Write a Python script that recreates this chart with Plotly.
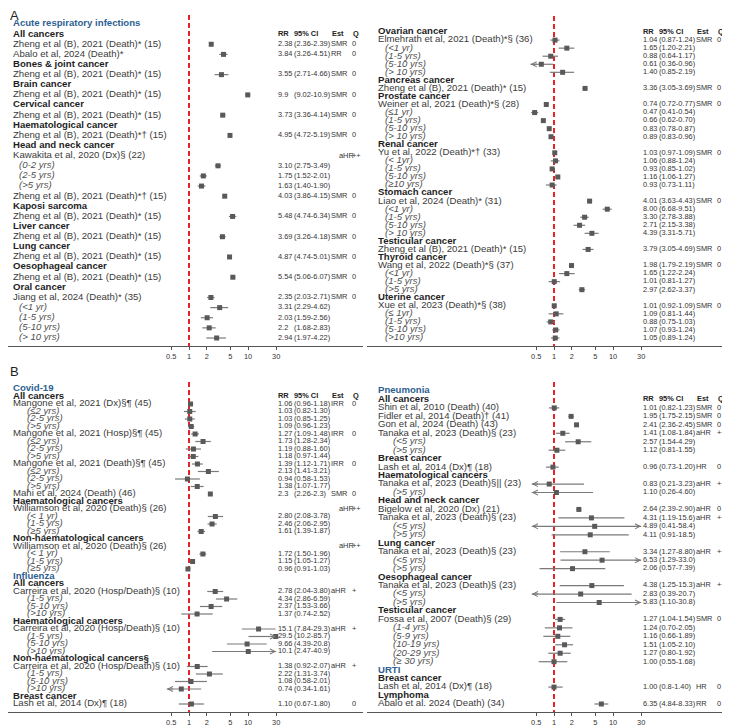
import math
import plotly.graph_objects as go

# ---------------- Panel A, left ----------------
A1_labels = ["Acute respiratory infections", "All cancers",
             "Zheng et al (B), 2021 (Death)* (15)", "Abalo et al, 2024 (Death)*",
             "Bones & joint cancer", "Zheng et al (B), 2021 (Death)* (15)",
             "Brain cancer", "Zheng et al (B), 2021 (Death)* (15)",
             "Cervical cancer", "Zheng et al (B), 2021 (Death)* (15)",
             "Haematological cancer", "Zheng et al (B), 2021 (Death)*† (15)",
             "Head and neck cancer", "Kawakita et al, 2020 (Dx)§ (22)",
             "(0-2 yrs)", "(2-5 yrs)", "(>5 yrs)", "Zheng et al (B), 2021 (Death)*† (15)",
             "Kaposi sarcoma", "Zheng et al (B), 2021 (Death)* (15)",
             "Liver cancer", "Zheng et al (B), 2021 (Death)* (15)",
             "Lung cancer", "Zheng et al (B), 2021 (Death)* (15)",
             "Oesophageal cancer", "Zheng et al (B), 2021 (Death)* (15)",
             "Oral cancer", "Jiang et al, 2024 (Death)* (35)",
             "(<1 yr)", "(1-5 yrs)", "(5-10 yrs)", "(> 10 yrs)"]
A1_kinds = "S G T T G T G T G T G T G T U U U T G T G T G T G T G T U U U U".split()
A1_rr = [None, None, "2.38", "3.84", None, "3.55", None, "9.9", None, "3.73", None, "4.95",
         None, None, "3.10", "1.75", "1.63", "4.03", None, "5.48", None, "3.69", None, "4.87",
         None, "5.54", None, "2.35", "3.31", "2.03", "2.2", "2.94"]
A1_ci = [None, None, "2.36-2.39", "3.26-4.51", None, "2.71-4.66", None, "9.02-10.9", None,
         "3.36-4.14", None, "4.72-5.19", None, None, "2.75-3.49", "1.52-2.01", "1.40-1.90",
         "3.86-4.15", None, "4.74-6.34", None, "3.26-4.18", None, "4.74-5.01", None,
         "5.06-6.07", None, "2.03-2.71", "2.29-4.62", "1.59-2.56", "1.68-2.83", "1.97-4.22"]
A1_est = ["", "", "SMR", "RR", "", "SMR", "", "SMR", "", "SMR", "", "SMR", "", "aHR", "", "",
          "", "SMR", "", "SMR", "", "SMR", "", "SMR", "", "SMR", "", "SMR", "", "", "", ""]
A1_q = ["", "", "0", "0", "", "0", "", "0", "", "0", "", "0", "", "++", "", "", "", "0", "",
        "0", "", "0", "", "0", "", "0", "", "0", "", "", "", ""]

# ---------------- Panel A, right ----------------
A2_labels = ["", "Ovarian cancer", "Elmehrath et al, 2021 (Death)*§ (36)",
             "(<1 yr)", "(1-5 yrs)", "(5-10 yrs)", "(> 10 yrs)",
             "Pancreas cancer", "Zheng et al (B), 2021 (Death)* (15)",
             "Prostate cancer", "Weiner et al, 2021 (Death)*§ (28)",
             "(≤1 yr)", "(1-5 yrs)", "(5-10 yrs)", "(> 10 yrs)",
             "Renal cancer", "Yu et al, 2022 (Death)*† (33)",
             "(< 1yr)", "(1-5 yrs)", "(5-10 yrs)", "(≥10 yrs)",
             "Stomach cancer", "Liao et al, 2024 (Death)* (31)",
             "(<1 yr)", "(1-5 yrs)", "(5-10 yrs)", "(> 10 yrs)",
             "Testicular cancer", "Zheng et al (B), 2021 (Death)* (15)",
             "Thyroid cancer", "Wang et al, 2022 (Death)*§ (37)",
             "(<1 yr)", "(1-5 yrs)", "(>5 yrs)",
             "Uterine cancer", "Xue et al, 2023 (Death)*§ (38)",
             "(≤ 1yr)", "(1-5 yrs)", "(5-10 yrs)", "(>10 yrs)"]
A2_kinds = "B G T U U U U G T G T U U U U G T U U U U G T U U U U G T G T U U U G T U U U U".split()
A2_rr = [None, None, "1.04", "1.65", "0.88", "0.61", "1.40", None, "3.36", None, "0.74",
         "0.47", "0.66", "0.83", "0.89", None, "1.03", "1.06", "0.93", "1.16", "0.93", None,
         "4.01", "8.00", "3.30", "2.71", "4.39", None, "3.79", None, "1.98", "1.65", "1.01",
         "2.97", None, "1.01", "1.09", "0.88", "1.07", "1.05"]
A2_ci = [None, None, "0.87-1.24", "1.20-2.21", "0.64-1.17", "0.36-0.96", "0.85-2.19", None,
         "3.05-3.69", None, "0.72-0.77", "0.41-0.54", "0.62-0.70", "0.78-0.87", "0.83-0.96",
         None, "0.97-1.09", "0.88-1.24", "0.85-1.02", "1.06-1.27", "0.73-1.11", None,
         "3.63-4.43", "6.68-9.51", "2.78-3.88", "2.15-3.38", "3.31-5.71", None, "3.05-4.69",
         None, "1.79-2.19", "1.22-2.24", "0.81-1.27", "2.62-3.37", None, "0.92-1.09",
         "0.81-1.44", "0.75-1.03", "0.93-1.24", "0.89-1.24"]
A2_est = ["", "", "SMR", "", "", "", "", "", "SMR", "", "SMR", "", "", "", "", "", "SMR", "",
          "", "", "", "", "SMR", "", "", "", "", "", "SMR", "", "SMR", "", "", "", "", "SMR",
          "", "", "", ""]
A2_q = ["", "", "0", "", "", "", "", "", "0", "", "0", "", "", "", "", "", "0", "", "", "",
        "", "", "0", "", "", "", "", "", "0", "", "0", "", "", "", "", "0", "", "", "", ""]

# ---------------- Panel B, left ----------------
B1_labels = ["Covid-19", "All cancers", "Mangone et al, 2021 (Dx)§¶ (45)",
             "(≤2 yrs)", "(2-5 yrs)", "(>5 yrs)", "Mangone et al, 2021 (Hosp)§¶ (45)",
             "(≤2 yrs)", "(2-5 yrs)", "(>5 yrs)", "Mangone et al, 2021 (Death)§¶ (45)",
             "(≤2 yrs)", "(2-5 yrs)", "(>5 yrs)", "Mahi et al, 2024 (Death) (46)",
             "Haematological cancers", "Williamson et al, 2020 (Death)§ (26)",
             "(< 1 yr)", "(1-5 yrs)", "(≥5 yrs)",
             "Non-haematological cancers", "Williamson et al, 2020 (Death)§ (26)",
             "(< 1 yr)", "(1-5 yrs)", "(≥5 yrs)",
             "Influenza", "All cancers", "Carreira et al, 2020 (Hosp/Death)§ (10)",
             "(1-5 yrs)", "(5-10 yrs)", "(>10 yrs)",
             "Haematological cancers", "Carreira et al, 2020 (Hosp/Death)§ (10)",
             "(1-5 yrs)", "(5-10 yrs)", "(>10 yrs)",
             "Non-haematological cancers§", "Carreira et al, 2020 (Hosp/Death)§ (10)",
             "(1-5 yrs)", "(5-10 yrs)", "(>10 yrs)",
             "Breast cancer", "Lash et al, 2014 (Dx)¶ (18)"]
B1_kinds = ("S G T U U U T U U U T U U U T G T U U U G T U U U "
            "S G T U U U G T U U U G T U U U G T").split()
B1_rr = [None, None, "1.06", "1.03", "1.03", "1.09", "1.27", "1.73", "1.19", "1.18", "1.39",
         "2.13", "0.94", "1.38", "2.3", None, None, "2.80", "2.46", "1.61", None, None, "1.72",
         "1.15", "0.96", None, None, "2.78", "4.34", "2.37", "1.37", None, "15.1", "29.5",
         "9.66", "10.1", None, "1.38", "2.22", "1.08", "0.74", None, "1.10"]
B1_ci = [None, None, "0.96-1.18", "0.82-1.30", "0.85-1.25", "0.96-1.23", "1.09-1.48",
         "1.28-2.34", "0.88-1.60", "0.97-1.44", "1.12-1.71", "1.41-3.21", "0.58-1.53",
         "1.07-1.77", "2.26-2.3", None, None, "2.08-3.78", "2.06-2.95", "1.39-1.87", None,
         None, "1.50-1.96", "1.05-1.27", "0.91-1.03", None, None, "2.04-3.80", "2.86-6.59",
         "1.53-3.66", "0.74-2.52", None, "7.84-29.3", "10.2-85.7", "4.39-20.8", "2.47-40.9",
         None, "0.92-2.07", "1.31-3.74", "0.58-2.01", "0.34-1.61", None, "0.67-1.80"]
B1_est = ["", "", "IRR", "", "", "", "IRR", "", "", "", "IRR", "", "", "", "SMR", "", "aHR",
          "", "", "", "", "aHR", "", "", "", "", "", "aHR", "", "", "", "", "aHR", "", "", "",
          "", "aHR", "", "", "", "", ""]
B1_q = ["", "", "0", "", "", "", "0", "", "", "", "0", "", "", "", "0", "", "++", "", "", "",
        "", "++", "", "", "", "", "", "+", "", "", "", "", "+", "", "", "", "", "+", "", "",
        "", "", "0"]

# ---------------- Panel B, right ----------------
B2_labels = ["Pneumonia", "All cancers", "Shin et al, 2010 (Death) (40)",
             "Fidler et al, 2014 (Death)† (41)", "Gon et al, 2024 (Death) (43)",
             "Tanaka et al, 2023 (Death)§ (23)", "(<5 yrs)", "(>5 yrs)",
             "Breast cancer", "Lash et al, 2014 (Dx)¶ (18)",
             "Haematological cancers", "Tanaka et al, 2023 (Death)§|| (23)", "(>5 yrs)",
             "Head and neck cancer", "Bigelow et al, 2020 (Dx) (21)",
             "Tanaka et al, 2023 (Death)§ (23)", "(<5 yrs)", "(>5 yrs)",
             "Lung cancer", "Tanaka et al, 2023 (Death)§ (23)", "(<5 yrs)", "(>5 yrs)",
             "Oesophageal cancer", "Tanaka et al, 2023 (Death)§ (23)", "(<5 yrs)", "(>5 yrs)",
             "Testicular cancer", "Fossa et al, 2007 (Death)§ (29)",
             "(1-4 yrs)", "(5-9 yrs)", "(10-19 yrs)", "(20-29 yrs)", "(≥ 30 yrs)",
             "URTI", "Breast cancer", "Lash et al, 2014 (Dx)¶ (18)",
             "Lymphoma", "Abalo et al. 2024 (Death) (34)"]
B2_kinds = ("S G T T T T U U G T G T U G T T U U G T U U G T U U "
            "G T U U U U U S G T G T").split()
B2_rr = [None, None, "1.01", "1.95", "2.41", "1.41", "2.57", "1.12", None, "0.96", None,
         "0.83", "1.10", None, "2.64", "4.31", "4.89", "4.11", None, "3.34", "6.53", "2.06",
         None, "4.38", "2.83", "5.83", None, "1.27", "1.24", "1.16", "1.51", "1.27", "1.00",
         None, None, "1.00", None, "6.35"]
B2_ci = [None, None, "0.82-1.23", "1.75-2.15", "2.36-2.45", "1.08-1.84", "1.54-4.29",
         "0.81-1.55", None, "0.73-1.20", None, "0.21-3.23", "0.26-4.60", None, "2.39-2.90",
         "1.19-15.6", "0.41-58.4", "0.91-18.5", None, "1.27-8.80", "1.29-33.0", "0.57-7.39",
         None, "1.25-15.3", "0.39-20.7", "1.10-30.8", None, "1.04-1.54", "0.70-2.05",
         "0.66-1.89", "1.05-2.10", "0.80-1.92", "0.55-1.68", None, None, "0.8-1.40", None,
         "4.84-8.33"]
B2_est = ["", "", "SMR", "SMR", "SMR", "aHR", "", "", "", "HR", "", "aHR", "", "", "aHR",
          "aHR", "", "", "", "aHR", "", "", "", "aHR", "", "", "", "SMR", "", "", "", "", "",
          "", "", "HR", "", "RR"]
B2_q = ["", "", "0", "0", "0", "++", "", "", "", "0", "", "++", "", "", "0", "++", "", "",
        "", "++", "", "", "", "++", "", "", "", "0", "", "", "", "", "", "", "", "0", "", "0"]

TICK_VALS = [0.5, 1, 2, 5, 10, 30]
TICK_TEXT = ["0.5", "1", "2", "5", "10", "30"]
COL_HEAD = ["RR", "95% CI", "Est", "Q"]

# ---------------- layout constants ----------------
PAGE_W, PAGE_H = 730, 727
BODY = 8                      # default page margin around the plot div
W, H = PAGE_W - BODY, PAGE_H - BODY
PPD = 59.0                    # pixels per decade on the ratio axis
X1 = 189                      # pixel (inside a panel) of ratio = 1
TXT_SHIFT = 1
FONT = "Liberation Sans, Arial, sans-serif"
BLUE = "#2e5f92"

# all pixel positions below are page pixels
panels = [
    dict(d=(A1_labels, A1_kinds, A1_rr, A1_ci, A1_est, A1_q), off=0, xpx=(0, 363),
         ypx=(10, 346), ltop=15, first=24, last=338, sub=20, clip=(0.4, 30)),
    dict(d=(A2_labels, A2_kinds, A2_rr, A2_ci, A2_est, A2_q), off=365, xpx=(367, 728),
         ypx=(10, 346), ltop=16, first=24, last=338, sub=21, clip=(0.4, 30)),
    dict(d=(B1_labels, B1_kinds, B1_rr, B1_ci, B1_est, B1_q), off=0, xpx=(0, 363),
         ypx=(380, 712), ltop=382, first=389, last=704, sub=28, clip=(0.42, 30)),
    dict(d=(B2_labels, B2_kinds, B2_rr, B2_ci, B2_est, B2_q), off=365, xpx=(367, 728),
         ypx=(380, 712), ltop=382, first=391, last=704, sub=29, clip=(0.42, 30)),
]


def rel2x(rel):
    return 10 ** ((rel - X1) / PPD)


def txt2x(rel):
    return rel2x(rel - TXT_SHIFT)


KSTYLE = {
    "S": dict(color=BLUE, weight="bold", style="normal"),
    "G": dict(color="#1e1e1e", weight="bold", style="normal"),
    "T": dict(color="#3a3a3a", weight="normal", style="normal"),
    "U": dict(color="#505050", weight="normal", style="italic"),
}
LABEL_SIZE = 9.6
NUM_SIZE = 7.4

fig = go.Figure()
annotations = []

for k, p in enumerate(panels):
    labels, kinds, rr, ci, est, q = p["d"]
    sfx = "" if k == 0 else str(k + 1)
    xa, ya = "x" + sfx, "y" + sfx
    n = len(labels)
    step = (p["last"] - p["first"]) / (n - 1)
    rows = [i + 1 for i in range(n)]

    def px2row(py, first=p["first"], step=step):
        return 1 + (py - first) / step

    x0 = max(p["xpx"][0], BODY)
    x1 = min(p["xpx"][1], PAGE_W)
    xdom = [(x0 - BODY) / W, (x1 - BODY) / W]
    xr = [(x0 - p["off"] - X1) / PPD, (x1 - p["off"] - X1) / PPD]
    ydom = [1 - (p["ypx"][1] - BODY) / H, 1 - (p["ypx"][0] - BODY) / H]
    yr = [px2row(p["ypx"][1]), px2row(p["ypx"][0])]

    fig.update_layout({
        "xaxis" + sfx: dict(type="log", domain=xdom, range=xr, anchor=ya,
                            tickvals=TICK_VALS, ticktext=TICK_TEXT, ticks="outside",
                            ticklen=3, tickwidth=1, tickcolor="#555", showline=True,
                            linecolor="#555", linewidth=1, showgrid=False, zeroline=False,
                            tickfont=dict(size=NUM_SIZE, color="#333", family=FONT)),
        "yaxis" + sfx: dict(domain=ydom, range=yr, anchor=xa, visible=False,
                            showgrid=False, zeroline=False),
    })

    # reference line at 1
    fig.add_trace(go.Scatter(x=[1, 1], y=[px2row(p["ltop"]), yr[0]], mode="lines",
                             line=dict(color="#e8212b", width=2, dash="5px,3px"),
                             xaxis=xa, yaxis=ya, hoverinfo="skip"))

    # confidence intervals and points
    clo, chi = p["clip"]
    cx, cy, mx, my = [], [], [], []
    for i in range(n):
        if ci[i]:
            lo, hi = map(float, ci[i].split("-"))
            a, b = max(lo, clo), min(hi, chi)
            cx += [a, b, None]
            cy += [rows[i], rows[i], None]
            for cond, head, tail in ((lo < clo, clo, 8), (hi > chi, chi, -8)):
                if cond:
                    annotations.append(dict(
                        xref=xa, yref=ya, x=math.log10(head), y=rows[i], ax=tail, ay=0,
                        axref="pixel", ayref="pixel", text="", showarrow=True,
                        arrowhead=5, arrowsize=1, arrowwidth=1, arrowcolor="#777",
                        standoff=0))
        if rr[i]:
            v = float(rr[i])
            if clo <= v <= chi:
                mx.append(v)
                my.append(rows[i])
    fig.add_trace(go.Scatter(x=cx, y=cy, mode="lines", line=dict(color="#7a7a7a", width=1.2),
                             xaxis=xa, yaxis=ya, hoverinfo="skip", connectgaps=False))
    fig.add_trace(go.Scatter(x=mx, y=my, mode="markers",
                             marker=dict(symbol="square", size=5, color="#595959"),
                             xaxis=xa, yaxis=ya, hoverinfo="skip"))

    # labels
    for kind, st in KSTYLE.items():
        ids = [i for i in range(n) if kinds[i] == kind]
        if not ids:
            continue
        xpos = txt2x(p["sub"] if kind == "U" else 14)
        fig.add_trace(go.Scatter(
            x=[xpos] * len(ids), y=[rows[i] for i in ids], text=[labels[i] for i in ids],
            mode="text", textposition="middle right", cliponaxis=False,
            textfont=dict(family=FONT, size=LABEL_SIZE, color=st["color"],
                          weight=st["weight"], style=st["style"]),
            xaxis=xa, yaxis=ya, hoverinfo="skip"))

    # numeric columns
    tx, ty, tt = [], [], []
    for i in range(n):
        if rr[i]:
            tx += [txt2x(279), txt2x(295)]
            ty += [rows[i], rows[i]]
            tt += [rr[i], "(" + ci[i] + ")"]
        if est[i]:
            tx.append(txt2x(332 if rr[i] else 340))
            ty.append(rows[i])
            tt.append(est[i])
        if q[i]:
            tx.append(txt2x(353))
            ty.append(rows[i])
            tt.append(q[i])
    fig.add_trace(go.Scatter(x=tx, y=ty, text=tt, mode="text", textposition="middle right",
                             cliponaxis=False,
                             textfont=dict(family=FONT, size=NUM_SIZE, color="#333"),
                             xaxis=xa, yaxis=ya, hoverinfo="skip"))
    # column header on the first group row
    hrow = 2
    fig.add_trace(go.Scatter(x=[txt2x(279), txt2x(295), txt2x(333), txt2x(354)],
                             y=[hrow] * 4, text=COL_HEAD, mode="text",
                             textposition="middle right", cliponaxis=False,
                             textfont=dict(family=FONT, size=NUM_SIZE, color="#222",
                                           weight="bold"),
                             xaxis=xa, yaxis=ya, hoverinfo="skip"))

for letter, ypx in (("A", 8), ("B", 372)):
    ypos = min(1 - (ypx - BODY) / H, 1)
    annotations.append(dict(xref="paper", yref="paper", x=0, y=ypos,
                            xanchor="left", yanchor="top" if ypos >= 1 else "middle",
                            yshift=2 if ypos >= 1 else 0,
                            text=letter, showarrow=False,
                            font=dict(family=FONT, size=13, color="#222")))

fig.update_layout(width=W, height=H, margin=dict(l=0, r=0, t=0, b=0),
                  paper_bgcolor="white", plot_bgcolor="white", showlegend=False,
                  annotations=annotations, font=dict(family=FONT))
fig.write_html("out.html")
